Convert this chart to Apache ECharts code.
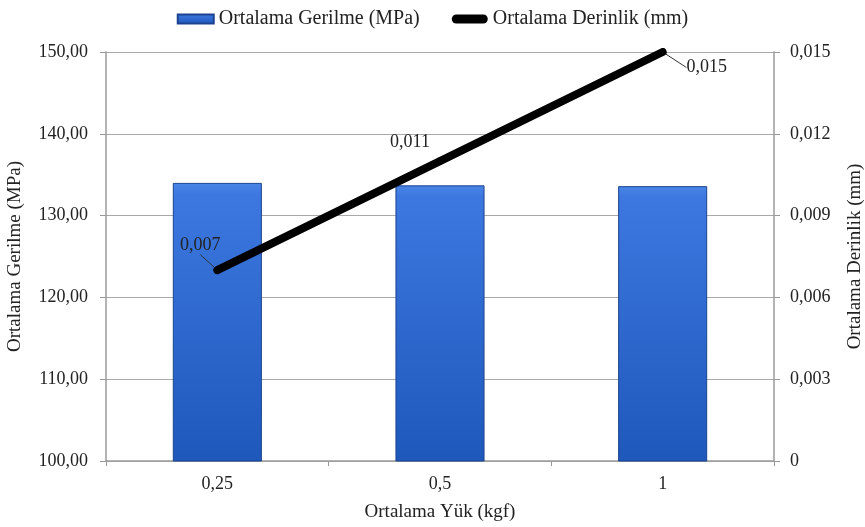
<!DOCTYPE html>
<html>
<head>
<meta charset="utf-8">
<script src="https://cdn.jsdelivr.net/npm/echarts@6/dist/echarts.min.js"></script>
<style>html,body{margin:0;padding:0;background:#fff}#c{width:865px;height:527px}</style>
</head>
<body>
<div id="c"></div>
<script>
var categories = ['0,25', '0,5', '1'];
var gerilme = [134.0, 133.7, 133.6];
var derinlik = [0.007, 0.011, 0.015];
var derinlikLabels = ['0,007', '0,011', '0,015'];
var seriesNames = ['Ortalama Gerilme (MPa)', 'Ortalama Derinlik (mm)'];

var FONT = 'Liberation Serif';
var chart = echarts.init(document.getElementById('c'));
var labelShift = [{dx: -17, dy: -7}, {dx: -30, dy: -1}, {dx: 44, dy: 33}];

chart.setOption({
  animation: false,
  textStyle: {fontFamily: FONT, color: '#222'},
  grid: {left: 106, right: 91, top: 52, bottom: 66, outerBoundsMode: 'none', containLabel: false},
  legend: {
    top: 4, left: 'center', itemGap: 32, itemWidth: 36, itemHeight: 9,
    textStyle: {fontFamily: FONT, fontSize: 20, color: '#222'},
    data: [
      {name: seriesNames[0], icon: 'rect'},
      {name: seriesNames[1], icon: 'path://M5,0 L35,0 A5,5 0 0 1 35,10 L5,10 A5,5 0 0 1 5,0 Z', itemStyle: {color: '#000'}}
    ]
  },
  xAxis: {
    type: 'category', data: categories,
    name: 'Ortalama Yük (kgf)', nameLocation: 'middle', nameGap: 42,
    nameTextStyle: {fontFamily: FONT, fontSize: 19, color: '#222'},
    axisLine: {lineStyle: {color: '#9a9a9a', width: 1.5}},
    axisTick: {show: true, alignWithLabel: false, length: 5, lineStyle: {color: '#9a9a9a'}},
    axisLabel: {fontFamily: FONT, fontSize: 18, color: '#222', margin: 14}
  },
  yAxis: [
    {
      type: 'value', min: 100, max: 150, interval: 10,
      name: 'Ortalama Gerilme (MPa)', nameLocation: 'middle', nameRotate: 90, nameGap: 81,
      nameTextStyle: {fontFamily: FONT, fontSize: 19, color: '#222'},
      axisLine: {show: true, lineStyle: {color: '#9a9a9a', width: 1.5}},
      axisTick: {show: true, length: 6, lineStyle: {color: '#9a9a9a'}},
      axisLabel: {fontFamily: FONT, fontSize: 18, color: '#222', margin: 18,
        formatter: function (v) { return v.toFixed(2).replace('.', ','); }},
      splitLine: {show: true, lineStyle: {color: '#a8a8a8', width: 1.2}}
    },
    {
      type: 'value', min: 0, max: 0.015, interval: 0.003,
      name: 'Ortalama Derinlik (mm)', nameLocation: 'middle', nameRotate: 90, nameGap: 72,
      nameTextStyle: {fontFamily: FONT, fontSize: 19, color: '#222'},
      axisLine: {show: true, lineStyle: {color: '#9a9a9a', width: 1.5}},
      axisTick: {show: true, length: 6, lineStyle: {color: '#9a9a9a'}},
      axisLabel: {fontFamily: FONT, fontSize: 18, color: '#222', margin: 16,
        formatter: function (v) { return v === 0 ? '0' : v.toFixed(3).replace('.', ','); }},
      splitLine: {show: false}
    }
  ],
  series: [
    {
      name: seriesNames[0], type: 'bar', yAxisIndex: 0, barWidth: '40%',
      data: gerilme,
      itemStyle: {
        color: new echarts.graphic.LinearGradient(0, 0, 0, 1, [
          {offset: 0, color: '#4a86e6'},
          {offset: 0.04, color: '#3c78e0'},
          {offset: 1, color: '#1f58bb'}
        ]),
        borderColor: '#1c438f', borderWidth: 1
      }
    },
    {
      name: seriesNames[1], type: 'line', yAxisIndex: 1,
      data: derinlik.map(function (v, i) {
        return {value: v, labelLine: {show: i !== 1}};
      }),
      symbol: 'circle', symbolSize: 7, showSymbol: true,
      lineStyle: {color: '#000', width: 8, cap: 'round', join: 'round'},
      itemStyle: {color: '#000'},
      label: {
        show: true, position: 'top', fontFamily: FONT, fontSize: 18, color: '#222',
        formatter: function (p) { return derinlikLabels[p.dataIndex]; }
      },
      labelLine: {show: true, lineStyle: {color: '#333', width: 1}},
      labelLayout: function (p) { return labelShift[p.dataIndex]; }
    }
  ]
});
</script>
</body>
</html>
